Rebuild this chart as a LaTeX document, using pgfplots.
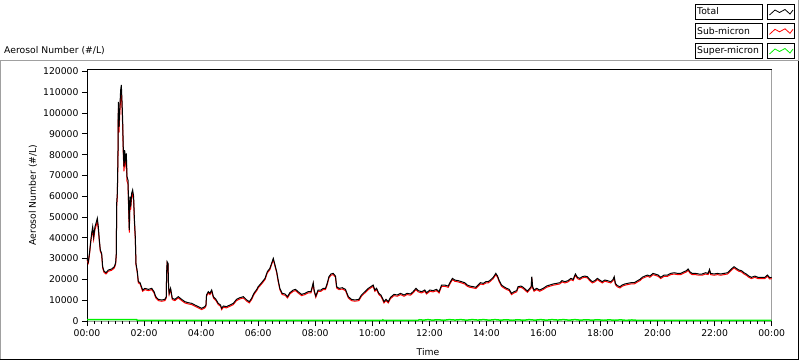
\documentclass[border=0pt]{standalone}
\usepackage{fontspec}
\setmainfont{DejaVu Sans}
\usepackage{pgfplots}
\usepackage{pgfplotstable}
\pgfplotsset{compat=1.18}
\definecolor{lvred}{RGB}{255,0,0}
\definecolor{lvgreen}{RGB}{0,240,0}
\definecolor{lvgray}{RGB}{160,160,160}
\pgfplotstableread{
h tot sub
0.000 30100 29500
0.047 28500 27900
0.093 33300 32700
0.128 38100 37500
0.164 42200 40900
0.199 45300 43900
0.234 40500 39300
0.280 45300 43900
0.315 47000 45600
0.362 49400 47900
0.397 45300 43900
0.432 39000 38400
0.467 34100 33500
0.514 32500 31900
0.549 26100 25500
0.596 24000 23400
0.666 23200 22600
0.747 24500 23900
0.864 25000 24400
0.958 26100 25500
1.004 28000 27400
1.028 32500 31900
1.040 56600 54900
1.063 61400 59600
1.086 80600 78200
1.098 105400 102200
1.121 93400 90600
1.145 101400 98400
1.180 111000 107700
1.203 113500 110100
1.226 106300 103100
1.250 96600 93700
1.273 82200 79700
1.296 74200 72000
1.320 82200 79700
1.343 77400 75100
1.378 80600 78200
1.402 69400 67300
1.437 67800 65800
1.460 55000 53400
1.483 43800 42500
1.507 59800 58000
1.530 55000 53400
1.565 61400 59600
1.600 63000 61100
1.635 59800 58000
1.658 50100 48600
1.693 40500 39300
1.717 27700 27100
1.764 23700 23100
1.799 18900 18300
1.857 18500 17900
1.95 14900 14300
2.03 15700 15100
2.15 15200 14600
2.27 15700 15100
2.35 14100 13500
2.41 11700 11100
2.50 10400 9800
2.62 10100 9500
2.73 10400 9800
2.78 11700 11100
2.79 22900 22300
2.81 28500 27900
2.84 27700 27100
2.86 16500 15900
2.88 13300 12700
2.93 15700 15100
2.99 10900 10300
3.08 10400 9800
3.20 11700 11100
3.32 10400 9800
3.43 9300 8700
3.55 8800 8200
3.67 8500 7900
3.78 7700 7100
3.90 6900 6300
4.02 6100 5500
4.13 6900 6300
4.17 7700 7100
4.19 12500 11900
4.25 14100 13500
4.31 13300 12700
4.37 14900 14300
4.43 11700 11100
4.52 10400 9800
4.60 8500 7900
4.68 7700 7100
4.72 6100 5500
4.78 7200 6600
4.89 6900 6300
5.01 7700 7100
5.13 8500 7900
5.24 10400 9800
5.36 11200 10600
5.48 11700 11100
5.60 10100 9500
5.69 9300 8700
5.77 10900 10300
5.85 13300 12700
5.95 15200 14600
6.00 16500 15900
6.12 18400 17800
6.24 20500 19900
6.32 23700 23100
6.41 25300 24700
6.47 27700 27100
6.53 30100 29500
6.59 26900 26300
6.65 23700 23100
6.70 19700 19100
6.76 15700 15100
6.84 13300 12700
6.94 13000 12400
7.03 11700 11100
7.11 13600 13000
7.23 14900 14300
7.31 15200 14600
7.40 14100 13500
7.52 12800 12200
7.64 13300 12700
7.75 14100 13500
7.85 14100 13500
7.93 18400 17800
7.96 14900 14300
8.02 12000 11400
8.10 14900 14300
8.20 14900 14300
8.28 15700 15100
8.36 15700 15100
8.42 18100 17500
8.48 21300 20700
8.55 22600 22000
8.63 22900 22300
8.71 21600 21000
8.75 16500 15900
8.83 15700 15100
8.95 16000 15400
9.06 15200 14600
9.16 11700 11100
9.27 10400 9800
9.39 10100 9500
9.53 10400 9800
9.62 12500 11900
9.74 14100 13500
9.86 15700 15100
9.98 16800 16200
10.03 17300 16700
10.09 14900 14300
10.15 15700 15100
10.23 13300 12700
10.30 12500 11900
10.36 10900 10300
10.41 9300 8700
10.48 10400 9800
10.56 9300 8700
10.64 11400 10800
10.76 12800 12200
10.87 12500 11900
10.99 13300 12700
11.11 12500 11900
11.22 13300 12700
11.34 13000 12400
11.43 14100 13500
11.53 15700 15100
11.61 14600 14000
11.73 14100 13500
11.84 14900 14300
11.90 13600 13000
12.02 14900 14300
12.13 14600 14000
12.25 15200 14600
12.34 14100 13500
12.43 17300 16700
12.54 17300 16700
12.66 16800 16200
12.74 18900 18300
12.81 20500 19900
12.89 19700 19100
13.01 19400 18800
13.13 18900 18300
13.24 18400 17800
13.33 17300 16700
13.42 16800 16200
13.54 16500 15900
13.63 16200 15600
13.71 17300 16700
13.79 18400 17800
13.89 18100 17500
13.98 18900 18300
14.06 18900 18300
14.14 19700 19100
14.24 21000 20400
14.33 22900 22300
14.39 21600 21000
14.45 19400 18800
14.53 17300 16700
14.61 16500 15900
14.71 15700 15100
14.80 15200 14600
14.88 13300 12700
14.97 14100 13500
15.06 14600 14000
15.11 16500 15900
15.21 16800 16200
15.29 16200 15600
15.37 15200 14600
15.44 14400 13800
15.52 15700 15100
15.57 16500 15900
15.59 21300 20700
15.62 16500 15900
15.67 14900 14300
15.76 15700 15100
15.87 14900 14300
15.99 15700 15100
16.11 16800 16200
16.22 17300 16700
16.34 17800 17200
16.46 18100 17500
16.57 18400 17800
16.65 19400 18800
16.75 18900 18300
16.86 19400 18800
16.96 20500 19900
17.04 20000 19400
17.12 22600 22000
17.19 21000 20400
17.27 20500 19900
17.36 21300 20700
17.45 21600 21000
17.54 21300 20700
17.62 20000 19400
17.71 18900 18300
17.80 19400 18800
17.89 20500 19900
17.97 19700 19100
18.06 18900 18300
18.15 19700 19100
18.24 19400 18800
18.36 18900 18300
18.44 20000 19400
18.48 21300 20700
18.52 18100 17500
18.59 17000 16400
18.68 16500 15900
18.76 17300 16700
18.85 17800 17200
18.95 18100 17500
19.06 18400 17800
19.18 18400 17800
19.30 19400 18800
19.38 20000 19400
19.46 21000 20400
19.55 21600 21000
19.65 22100 21500
19.73 21600 21000
19.84 22900 22300
19.93 22500 21900
20.02 22100 21500
20.11 21000 20400
20.23 22100 21500
20.35 22100 21500
20.46 22900 22300
20.58 23200 22600
20.70 22900 22300
20.81 22900 22300
20.93 23700 23100
21.01 24200 23600
21.07 25000 24400
21.13 23700 23100
21.21 22900 22300
21.33 22900 22300
21.45 22600 22000
21.56 22600 22000
21.68 23200 22600
21.77 22900 22300
21.82 24800 24200
21.86 22900 22300
21.98 22600 22000
22.10 22900 22300
22.21 22600 22000
22.33 22900 22300
22.45 23200 22600
22.53 24200 23600
22.61 25300 24700
22.68 26100 25500
22.76 25300 24700
22.85 24500 23900
22.94 24200 23600
23.03 23200 22600
23.12 22500 21900
23.20 21600 21000
23.29 21000 20400
23.41 21600 21000
23.52 21000 20400
23.64 21000 20400
23.76 21000 20400
23.85 22100 21500
23.93 20800 20200
24.00 21000 20400
}\aerosol
\pgfplotstableread{
h sup
0.00 650
1.74 650
1.76 300
10.35 300
10.37 550
10.40 300
11.60 300
11.65 600
11.80 400
11.95 650
12.10 400
12.30 600
12.50 350
12.70 650
12.90 450
13.10 650
13.30 400
13.50 650
13.70 450
13.90 650
14.10 400
14.30 650
14.50 400
14.70 600
14.90 350
15.10 600
15.30 350
15.50 650
15.70 400
15.90 650
16.10 400
16.30 650
16.50 450
16.70 650
16.90 400
17.10 650
17.30 400
17.50 600
17.70 400
17.90 600
18.10 350
18.30 550
18.50 350
18.70 550
18.90 300
19.10 500
19.30 300
24.00 300
}\supermicron
\begin{document}
\begin{tikzpicture}[font=\fontsize{9.3}{11}\selectfont]
\path[use as bounding box] (0bp,0bp) rectangle (800bp,361bp);
\begin{scope}[x=1bp,y=1bp]
% panel border
\draw[lvgray,line width=1bp] (0.5,1.5) -- (0.5,300) -- (798,300);
\draw[black,line width=1bp] (0.5,1.5) -- (798,1.5) -- (798,300);
\draw[lvgray,line width=1bp] (798,300) -- (798,361);
% plot frame
\draw[black,line width=1bp] (87,39.5) -- (87,291) -- (771.7,291);
\draw[lvgray,line width=1bp] (771.7,291) -- (771.7,39.5) -- (87,39.5);
\end{scope}
\begin{axis}[
  at={(87bp,40bp)}, anchor=south west,
  scale only axis, width=684.7bp, height=251bp,
  xmin=0, xmax=24, ymin=0, ymax=120700,
  xtick={0,2,4,6,8,10,12,14,16,18,20,22,24},
  xticklabels={00:00,02:00,04:00,06:00,08:00,10:00,12:00,14:00,16:00,18:00,20:00,22:00,00:00},
  minor x tick num=7,
  ytick={0,10000,20000,30000,40000,50000,60000,70000,80000,90000,100000,110000,120000},
  yticklabels={0,10000,20000,30000,40000,50000,60000,70000,80000,90000,100000,110000,120000},
  scaled y ticks=false,
  ticklabel style={font=\fontsize{9.3}{11}\selectfont},
  tick align=outside,
  tick pos=left,
  major tick length=5bp, minor tick length=2.5bp,
  tick style={black, line width=0.8bp},
  axis line style={draw=none},
  clip=false,
]
\addplot[lvred, line width=1bp] table[x=h,y=sub]{\aerosol};
\addplot[black, line width=1bp] table[x=h,y=tot]{\aerosol};
\addplot[lvgreen, line width=1.5bp] table[x=h,y=sup]{\supermicron};
\end{axis}
\begin{scope}[x=1bp,y=1bp]
% labels
\node[anchor=west,inner sep=0pt] at (4,310.5) {Aerosol Number (\#/L)};
\node[rotate=90,inner sep=0pt] at (33,166) {Aerosol Number (\#/L)};
\node[inner sep=0pt] at (428,9) {Time};
% legend
\foreach \yb/\lab/\col in {342/Total/black, 322.7/Sub-micron/lvred, 303/Super-micron/lvgreen}{
  \draw[black,line width=0.8bp,fill=white] (695,\yb) rectangle (762.7,\yb+15);
  \node[anchor=west,inner sep=0pt] at (697,\yb+7.5) {\lab};
  \draw[black,line width=0.8bp,fill=white] (767.3,\yb) rectangle (794.3,\yb+15);
  \draw[\col,line width=0.8bp] (769.5,\yb+4) -- (775,\yb+9) -- (779.5,\yb+6.5) -- (785,\yb+9.5) -- (790,\yb+5) -- (793,\yb+9);
}
\end{scope}
\end{tikzpicture}
\end{document}
